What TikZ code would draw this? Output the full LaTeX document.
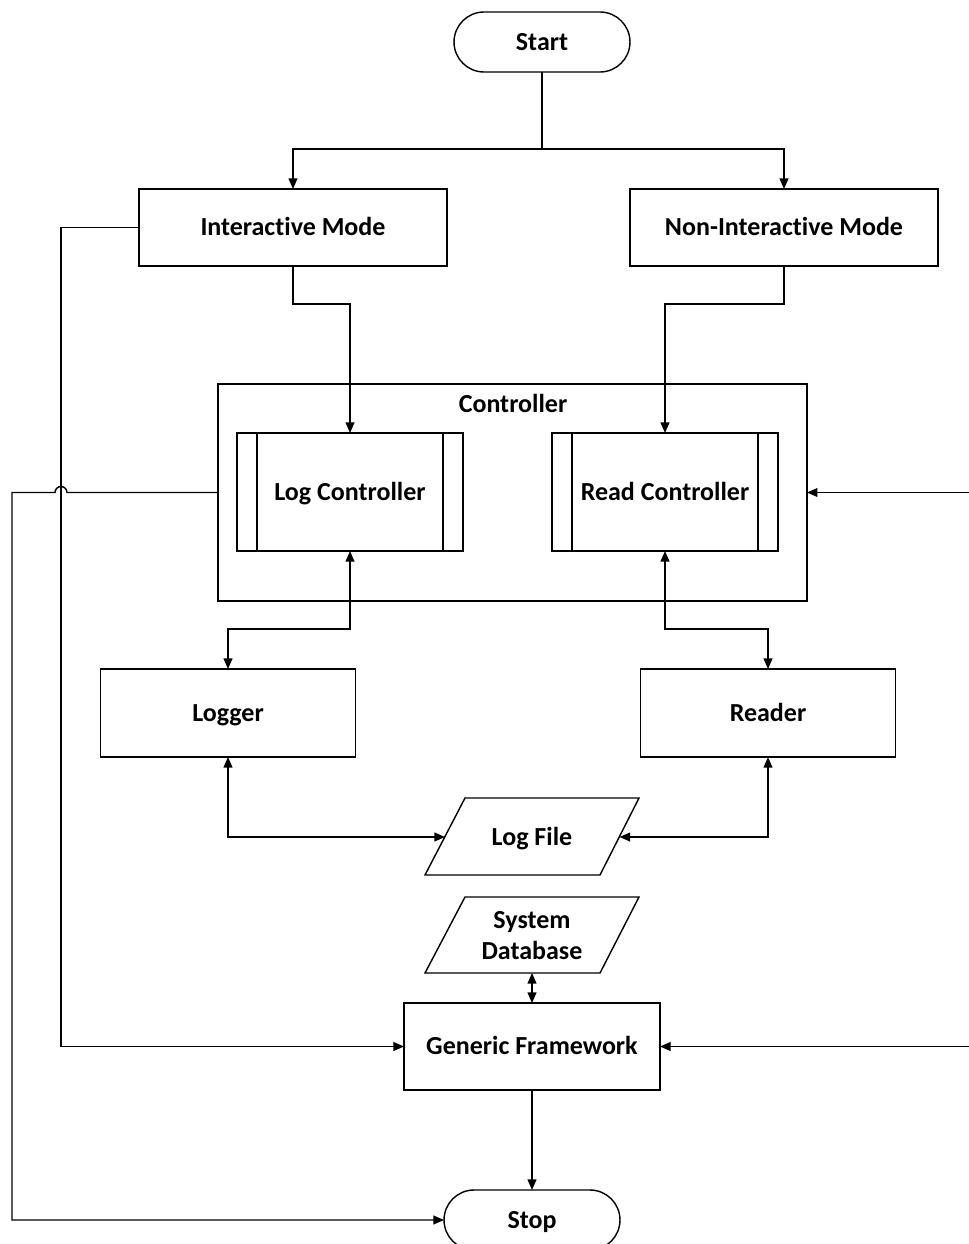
\documentclass[tikz,border=0pt]{standalone}
\usepackage{fontspec}
\setmainfont[Ligatures=NoCommon]{Carlito}
\usetikzlibrary{arrows.meta,calc}
\begin{document}
\begin{tikzpicture}[x=0.02cm,y=-0.02cm,line width=0.8pt,
  font=\bfseries\fontsize{14.8}{17}\selectfont,
  tx/.style={text height=0.92em,text depth=0em},
  box/.style={draw,rectangle,inner sep=0pt,outer sep=0pt,align=center,tx},
  term/.style={draw,rectangle,rounded corners=0.6cm,minimum width=3.52cm,minimum height=1.2cm,outer sep=0pt,tx},
  tip/.tip={Triangle[length=6pt,width=5pt]},
  arr/.style={-tip},
  darr/.style={tip-tip}]
\useasboundingbox (0,0) rectangle (969,1244);

% nodes
\node[term] (start) at (542,42) {Start};
\node[box,minimum width=6.16cm,minimum height=1.54cm] (im) at (293,227.5) {Interactive Mode};
\node[box,minimum width=6.16cm,minimum height=1.54cm] (nim) at (784,227.5) {Non-Interactive Mode};
\node[box,minimum width=11.78cm,minimum height=4.34cm] (ctrl) at (512.5,492.5) {};
\node[tx] (ctrllabel) at (513,404) {Controller};
\node[box,minimum width=4.52cm,minimum height=2.36cm] (lc) at (350,492) {Log Controller};
\node[box,minimum width=4.52cm,minimum height=2.36cm] (rc) at (665,492) {Read Controller};
\draw ([xshift=0.4cm]lc.north west) -- ([xshift=0.4cm]lc.south west);
\draw ([xshift=-0.4cm]lc.north east) -- ([xshift=-0.4cm]lc.south east);
\draw ([xshift=0.4cm]rc.north west) -- ([xshift=0.4cm]rc.south west);
\draw ([xshift=-0.4cm]rc.north east) -- ([xshift=-0.4cm]rc.south east);
\node[box,minimum width=5.1cm,minimum height=1.76cm] (logger) at (228,713) {Logger};
\node[box,minimum width=5.1cm,minimum height=1.76cm] (reader) at (768,713) {Reader};
\node[tx] (lf) at (532,837) {Log File};
\draw (465,798) -- (639,798) -- (600,875) -- (425,875) -- cycle;
\coordinate (lfW) at (445,837);
\coordinate (lfE) at (619.5,837);
\node[align=center,font=\bfseries\fontsize{14.8}{17.6}\selectfont] (sd) at (532,936) {System\\Database};
\draw (465,897) -- (639,897) -- (600,973) -- (425,973) -- cycle;
\coordinate (sdS) at (532,973);
\node[box,minimum width=5.12cm,minimum height=1.74cm] (gf) at (532,1046.5) {Generic Framework};
\node[term] (stop) at (532,1220) {Stop};
\coordinate (split) at (542,149);
\coordinate (r1) at (969,492.5);
\coordinate (r2) at (969,1046.5);

% connectors
\draw (start.south) -- (split);
\draw[arr] (split) -| (im.north);
\draw[arr] (split) -| (nim.north);
\draw[arr] (im.south) -- ++(0,38) -| (lc.north);
\draw[arr] (nim.south) -- ++(0,38) -| (rc.north);
\draw[arr] (im.west) -- (61,227.5) |- (gf.west);
\draw[arr] (ctrl.west) -- (67,492.5) arc[start angle=0,end angle=-180,radius=6] -- (12,492.5) |- (stop.west);
\draw[arr] (r1) -- (ctrl.east);
\draw[arr] (r2) -- (gf.east);
\draw[darr] (lc.south) -- ++(0,78) -| (logger.north);
\draw[darr] (rc.south) -- ++(0,78) -| (reader.north);
\draw[darr] (logger.south) |- (lfW);
\draw[darr] (reader.south) |- (lfE);
\draw[darr] (sdS) -- (gf.north);
\draw[arr] (gf.south) -- (stop.north);
\end{tikzpicture}
\end{document}
